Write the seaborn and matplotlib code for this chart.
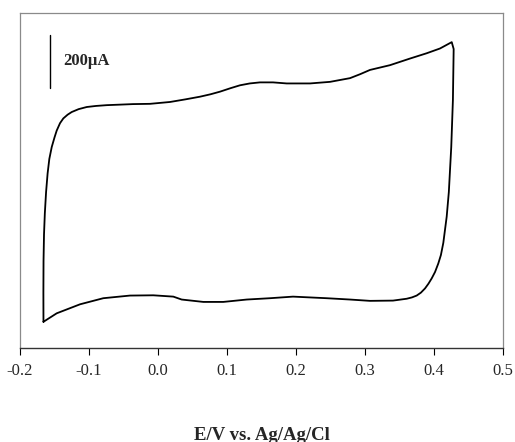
import matplotlib
matplotlib.use("Agg")
import matplotlib.pyplot as plt
import seaborn as sns
import pandas as pd

# Anodic (forward) sweep: potential (V) and current (uA)
E_fwd = [-0.166, -0.1661, -0.1659, -0.1652, -0.1640, -0.1622, -0.1600, -0.1575,
         -0.1540, -0.1500, -0.1468, -0.1420, -0.1372, -0.1310, -0.1251, -0.1150,
         -0.1033, -0.0900, -0.0743, -0.0550, -0.0362, -0.0116, 0.0174, 0.0400,
         0.0609, 0.0760, 0.0899, 0.1050, 0.1188, 0.1330, 0.1478, 0.1667, 0.1865,
         0.2203, 0.2493, 0.2783, 0.2930, 0.3072, 0.3362, 0.3652, 0.3894, 0.4087,
         0.4257]
I_fwd = [-460, -350, -230, -130, -50, 30, 100, 155,
         200, 236, 262, 290, 308, 322, 332, 343,
         351, 355, 358, 360, 362, 363, 370, 380,
         390, 399, 409, 422, 433, 440, 444, 444, 440,
         440, 446, 460, 475, 491, 509, 534, 554, 572,
         596]

# Cathodic (reverse) sweep
E_rev = [0.4285, 0.4274, 0.4250, 0.4215, 0.4184, 0.4135, 0.4100, 0.4062, 0.4015,
         0.3967, 0.3920, 0.3870, 0.3810, 0.3749, 0.3680, 0.3604, 0.3406, 0.3072,
         0.2783, 0.2445, 0.1957, 0.1623, 0.1286, 0.0946, 0.0657, 0.0343, 0.0222,
         -0.0068, -0.0406, -0.0793, -0.1130, -0.1468, -0.166]
I_rev = [570, 377, 200, 30, -63, -162, -208, -240, -272,
         -296, -316, -334, -350, -361, -368, -373, -380, -381,
         -376, -371, -365, -371, -376, -385, -385, -376, -365,
         -360, -361, -371, -394, -428, -460]

x_ticks = [-0.2, -0.1, 0.0, 0.1, 0.2, 0.3, 0.4, 0.5]
x_tick_labels = ["-0.2", "-0.1", "0.0", "0.1", "0.2", "0.3", "0.4", "0.5"]
scale_bar_uA = 200
scale_label = "200μA"
x_label = "E/V vs. Ag/Ag/Cl"

df = pd.DataFrame({
    "E": E_fwd + E_rev,
    "I": I_fwd + I_rev,
    "step": list(range(len(E_fwd) + len(E_rev))),
})

sns.set_style("white")
plt.rcParams["font.family"] = ["Liberation Serif", "DejaVu Serif"]

fig = plt.figure(figsize=(5.15, 4.42), dpi=100)
ax = fig.add_axes([20 / 515, 1 - 348 / 442, 483 / 515, 335 / 442])

sns.lineplot(data=df, x="E", y="I", sort=False, estimator=None, color="black",
             linewidth=1.3, ax=ax)

ax.set_xlim(-0.2, 0.5)
ax.set_ylim(-559, 706)
ax.set_xticks(x_ticks)
ax.set_xticklabels(x_tick_labels, fontsize=12)
ax.set_yticks([])
ax.set_ylabel("")
ax.set_xlabel(x_label, fontsize=13.5, fontweight="bold", labelpad=34)
ax.tick_params(axis="x", direction="out", length=5, width=0.8, color="black", pad=6,
               bottom=True)

for side in ["left", "top", "right"]:
    ax.spines[side].set_color("#8a8a8a")
    ax.spines[side].set_linewidth(0.9)
ax.spines["bottom"].set_color("#333333")
ax.spines["bottom"].set_linewidth(1.0)

# scale bar
bar_x = -0.1565
bar_top = 623
ax.plot([bar_x, bar_x], [bar_top, bar_top - scale_bar_uA], color="black", linewidth=1.0)
ax.text(-0.137, bar_top - scale_bar_uA / 2, scale_label, fontsize=12, fontweight="bold",
        va="center", ha="left")

fig.savefig("out.png", dpi=100)
